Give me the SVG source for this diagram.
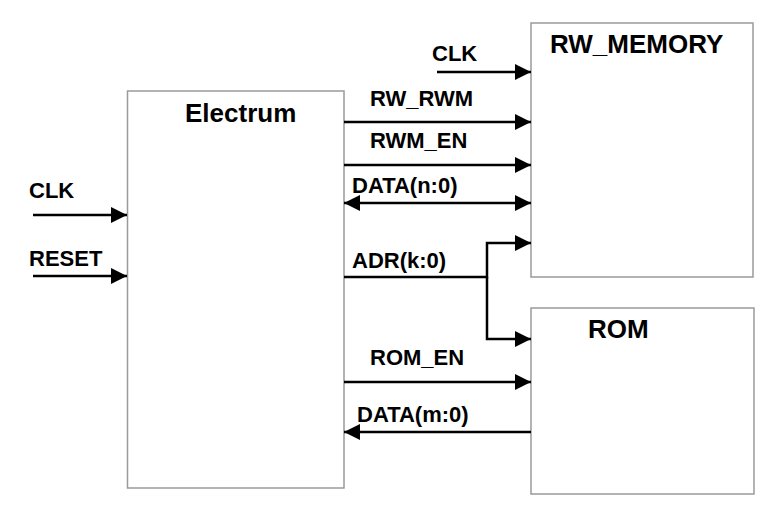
<svg xmlns="http://www.w3.org/2000/svg" width="773" height="516" viewBox="0 0 773 516">
<style>
.box{fill:#fff;stroke:#9a9a9a;stroke-width:1.5}
.title{font-family:"Liberation Sans",Arial,sans-serif;font-weight:bold;font-size:26px;fill:#000}
.lbl{font-family:"Liberation Sans",Arial,sans-serif;font-weight:bold;font-size:22px;fill:#000}
.w{fill:none;stroke:#000;stroke-width:2.5}
</style>
<defs>
<marker id="ah" markerUnits="userSpaceOnUse" markerWidth="16" markerHeight="16" viewBox="0 0 14 14" refX="14" refY="7" orient="auto-start-reverse">
<path d="M0,0 L14,7 L0,14 Z" fill="#000"/>
</marker>
</defs>
<rect width="773" height="516" fill="#fff"/>
<g id="electrum">
<rect class="box" x="127.5" y="91" width="216.5" height="397"/>
<text class="title" x="185" y="122">Electrum</text>
</g>
<g id="rw_memory">
<rect class="box" x="531" y="23" width="222" height="254"/>
<text class="title" x="550" y="53">RW_MEMORY</text>
</g>
<g id="rom">
<rect class="box" x="531" y="308" width="223" height="186"/>
<text class="title" x="588" y="338">ROM</text>
</g>
<g id="connectors">
<line class="w" x1="33" y1="215" x2="127" y2="215" marker-end="url(#ah)"/>
<line class="w" x1="33" y1="276" x2="127" y2="276" marker-end="url(#ah)"/>
<line class="w" x1="437" y1="72" x2="531" y2="72" marker-end="url(#ah)"/>
<line class="w" x1="344" y1="122" x2="531" y2="122" marker-end="url(#ah)"/>
<line class="w" x1="344" y1="165" x2="531" y2="165" marker-end="url(#ah)"/>
<line class="w" x1="344" y1="203" x2="531" y2="203" marker-start="url(#ah)" marker-end="url(#ah)"/>
<polyline class="w" points="344,277 487,277 487,243 531,243" marker-end="url(#ah)"/>
<polyline class="w" points="487,277 487,339 531,339" marker-end="url(#ah)"/>
<line class="w" x1="344" y1="382" x2="531" y2="382" marker-end="url(#ah)"/>
<line class="w" x1="531" y1="432" x2="344" y2="432" marker-end="url(#ah)"/>
</g>
<g id="labels">
<text class="lbl" x="29" y="198">CLK</text>
<text class="lbl" x="29" y="266">RESET</text>
<text class="lbl" x="432" y="61">CLK</text>
<text class="lbl" x="370" y="106">RW_RWM</text>
<text class="lbl" x="370" y="148">RWM_EN</text>
<text class="lbl" x="352" y="193">DATA(n:0)</text>
<text class="lbl" x="352" y="268">ADR(k:0)</text>
<text class="lbl" x="370" y="365">ROM_EN</text>
<text class="lbl" x="357" y="422">DATA(m:0)</text>
</g>
</svg>
